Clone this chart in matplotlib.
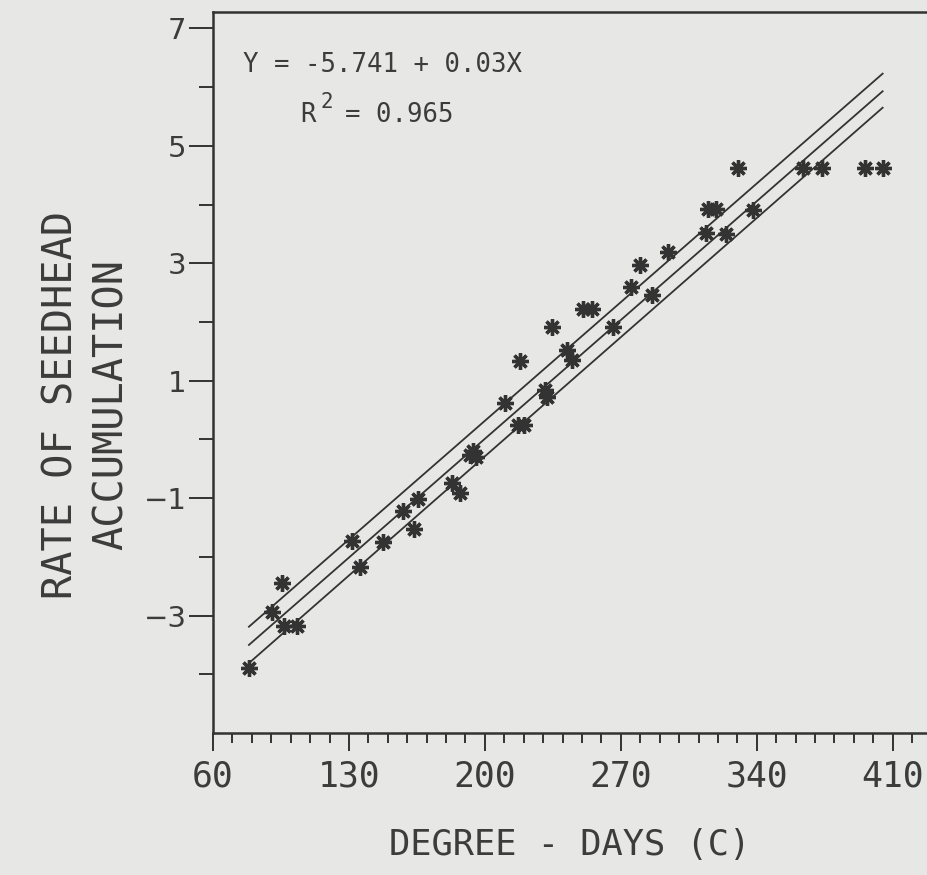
import matplotlib
matplotlib.use("Agg")
import matplotlib.pyplot as plt
import numpy as np

# observed points (degree-days, rate)
degree_days = [78.5, 90.4, 95.5, 96.5, 103.2, 131.5, 135.7, 147.5, 157.8, 163.4,
               165.5, 183.0, 187.1, 192.3, 195.4, 194.0, 210.3, 218.0, 217.0, 220.0,
               231.0, 232.0, 234.5, 242.2, 244.8, 250.4, 255.0, 265.9, 275.1, 279.8,
               286.0, 294.2, 313.7, 314.8, 318.9, 324.0, 330.2, 337.9, 363.7, 373.4,
               395.6, 404.8]
rate = [-3.89, -2.94, -2.44, -3.18, -3.18, -1.73, -2.17, -1.75, -1.22, -1.52,
        -1.01, -0.74, -0.91, -0.26, -0.30, -0.20, 0.62, 1.34, 0.25, 0.25,
        0.84, 0.72, 1.92, 1.52, 1.35, 2.22, 2.22, 1.92, 2.60, 2.97,
        2.46, 3.19, 3.52, 3.93, 3.93, 3.50, 4.63, 3.91, 4.63, 4.63,
        4.63, 4.63]

# regression line and its band, read at both ends
line_x = [78.5, 404.8]
line_mid = [-3.50, 5.93]
line_upper = [-3.19, 6.23]
line_lower = [-3.81, 5.65]

x_major = [60, 130, 200, 270, 340, 410]
y_major = [-3, -1, 1, 3, 5, 7]
y_minor = [-4, -2, 0, 2, 4, 6]

bg = "#e7e7e5"
ink = "#333333"
txt = "#3c3c3c"
mono = "DejaVu Sans Mono"

fig = plt.figure(figsize=(9.28, 8.75), dpi=100, facecolor=bg)
W, H = 928, 875
# axes box runs off the right edge like the scan
ax = fig.add_axes([213 / W, (H - 733) / H, (951 - 213) / W, (733 - 12) / H])
ax.set_facecolor(bg)

ax.plot(line_x, line_mid, color=ink, lw=1.3)
ax.plot(line_x, line_upper, color=ink, lw=1.3)
ax.plot(line_x, line_lower, color=ink, lw=1.3)
ax.plot(degree_days, rate, linestyle="none", marker=(8, 2, 0), markersize=12,
        markeredgewidth=2.4, color=ink)

ax.set_xlim(60, 440)
ax.set_ylim(-5, 7.28)
ax.set_xticks(x_major)
ax.set_xticks(np.arange(60, 440, 10), minor=True)
ax.set_yticks(y_major)
ax.set_yticks(y_minor, minor=True)
ax.set_xticklabels([str(v) for v in x_major], family=mono, fontsize=25, color=txt)
ax.set_yticklabels(["\u2212" + str(-v) if v < 0 else str(v) for v in y_major],
                   family="DejaVu Sans", fontsize=21, color=txt)

ax.tick_params(axis="x", which="major", direction="out", length=13, width=1.4, color=ink, pad=6)
ax.tick_params(axis="x", which="minor", direction="out", length=7, width=1.4, color=ink)
ax.tick_params(axis="y", which="major", direction="out", length=17, width=1.4, color=ink, pad=2)
ax.tick_params(axis="y", which="minor", direction="out", length=10, width=1.4, color=ink)
for sp in ax.spines.values():
    sp.set_linewidth(1.8)
    sp.set_color(ink)

# equation text
fig.text(243 / W, 1 - 72 / H, "Y = -5.741 + 0.03X", family=mono, fontsize=18.5,
         color=txt, ha="left", va="baseline")
fig.text(300 / W, 1 - 122 / H, "R", family=mono, fontsize=18.5, color=txt, va="baseline")
fig.text(320 / W, 1 - 134 / H + 0.03, "2", family=mono, fontsize=15, color=txt, va="baseline")
fig.text(345 / W, 1 - 122 / H, "= 0.965", family=mono, fontsize=18.5, color=txt, va="baseline")

# axis labels
fig.text(570 / W, 1 - 845 / H, "DEGREE - DAYS (C)", family=mono, fontsize=25.5,
         color=txt, ha="center", va="center")
fig.text(62 / W, 1 - 405 / H, "RATE OF SEEDHEAD", family=mono, fontsize=29,
         color=txt, ha="center", va="center", rotation=90)
fig.text(112 / W, 1 - 405 / H, "ACCUMULATION", family=mono, fontsize=29,
         color=txt, ha="center", va="center", rotation=90)

fig.savefig("out.png", dpi=100, facecolor=bg)
